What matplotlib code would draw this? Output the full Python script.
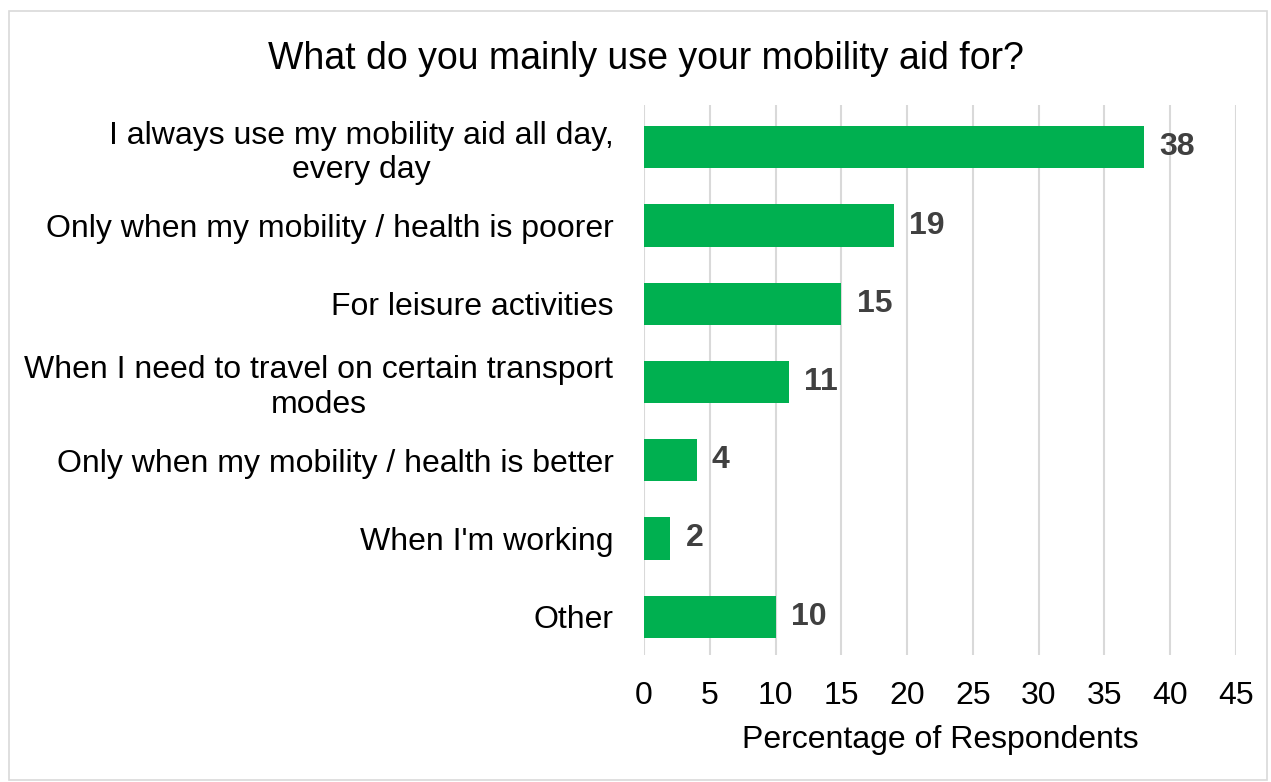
import matplotlib
import matplotlib.pyplot as plt
from matplotlib.patches import Rectangle

matplotlib.use("Agg")

plt.rcParams["font.family"] = ["Liberation Sans", "DejaVu Sans"]

categories = [
    "I always use my mobility aid all day,\nevery day",
    "Only when my mobility / health is poorer",
    "For leisure activities",
    "When I need to travel on certain transport\nmodes",
    "Only when my mobility / health is better",
    "When I'm working",
    "Other",
]
percentages = [38, 19, 15, 11, 4, 2, 10]
x_ticks = [0, 5, 10, 15, 20, 25, 30, 35, 40, 45]

BAR_COLOR = "#00B050"
GRID_COLOR = "#D9D9D9"
LABEL_COLOR = "#404040"

fig = plt.figure(figsize=(12.71, 7.82), dpi=100)
ax = fig.add_axes([0.5067, 0.1624, 0.4658, 0.7033])

y_pos = list(range(len(categories)))
ax.barh(y_pos, percentages, height=0.54, color=BAR_COLOR, zorder=3)
for y, v in zip(y_pos, percentages):
    ax.annotate(f"{v}", xy=(v, y), xytext=(11, 0), textcoords="offset points",
                ha="left", va="center", fontsize=23, fontweight="bold",
                color=LABEL_COLOR)

ax.set_xlim(0, 45)
ax.set_ylim(6.49, -0.54)
ax.set_xticks(x_ticks)
ax.set_yticks(y_pos)
ax.set_yticklabels(categories, multialignment="center", linespacing=1.2)
ax.tick_params(axis="both", length=0, labelsize=23, colors="black")
ax.tick_params(axis="y", pad=22)
ax.tick_params(axis="x", pad=19)
ax.xaxis.grid(True, color=GRID_COLOR, linewidth=1.5, zorder=0)
ax.set_axisbelow(True)
for side in ("top", "right", "bottom", "left"):
    ax.spines[side].set_visible(False)

ax.set_xlabel("Percentage of Respondents", fontsize=23, labelpad=10)
fig.suptitle("What do you mainly use your mobility aid for?", fontsize=27,
             x=0.508, y=0.947)

# thin frame around the whole chart area
fig.patches.append(Rectangle((0.007, 0.002), 0.99, 0.984, transform=fig.transFigure,
                             fill=False, edgecolor=GRID_COLOR, linewidth=1.2))

fig.savefig("out.png", dpi=100)
